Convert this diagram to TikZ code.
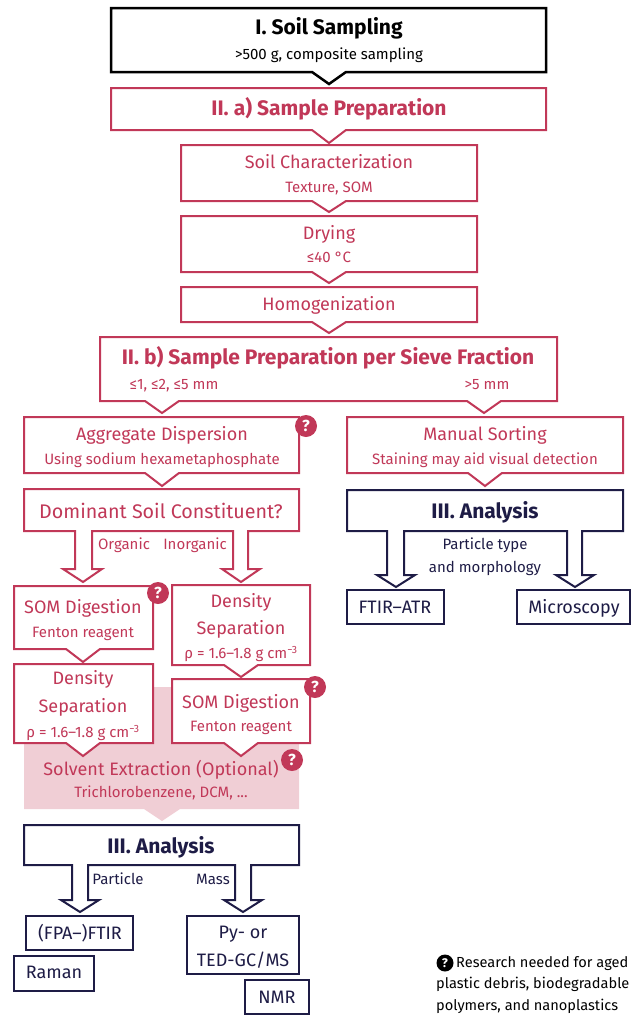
\documentclass[tikz,border=0pt]{standalone}
\usepackage{fontspec}
\setmainfont{Fira Sans}
\definecolor{crim}{HTML}{C13858}
\definecolor{navy}{HTML}{1E1C46}
\definecolor{pinkbg}{HTML}{F0CED5}
\tikzset{
  crimbox/.style={draw=crim, line width=2pt, fill=white},
  navybox/.style={draw=navy, line width=2pt, fill=white},
  blackbox/.style={draw=black, line width=2.5pt, fill=white},
  pinkarea/.style={fill=pinkbg, draw=none},
  ttl/.style={font=\fontsize{21}{25}\selectfont\bfseries, inner sep=0pt, text height=16.8pt, text depth=2.9pt},
  biglbl/.style={font=\fontsize{19.7}{24}\selectfont, inner sep=0pt, text height=15.8pt, text depth=2.8pt},
  mainl/.style={font=\fontsize{18}{22}\selectfont, inner sep=0pt, text height=14.4pt, text depth=2.5pt},
  subl/.style={font=\fontsize{15}{18}\selectfont, inner sep=0pt, text height=12pt, text depth=2.1pt},
  legl/.style={font=\fontsize{14.6}{18}\selectfont, inner sep=0pt, anchor=west, text height=11.7pt, text depth=2.1pt},
  badge/.style={circle, fill=crim, minimum size=22pt, inner sep=0pt, text=white, font=\fontsize{16}{16}\selectfont\bfseries},
  legbadge/.style={circle, fill=black, minimum size=17pt, inner sep=0pt, text=white, font=\fontsize{12.5}{12.5}\selectfont\bfseries},
}
% callout box: style, x1, y1, x2, y2, pointer x, tip y
\newcommand\cbox[7]{%
  \draw[#1] (#2,#3) -- (#4,#3) -- (#4,#5) -- (#6+17,#5) -- (#6,#7) -- (#6-17,#5) -- (#2,#5) -- cycle;}
\begin{document}
\begin{tikzpicture}[x=1pt,y=-1pt]
\useasboundingbox (0,0) rectangle (632,1017);

% I. Soil Sampling
\cbox{blackbox}{111}{8}{546}{72}{329}{84}
\node[ttl] (s1) at (329,28) {I. Soil Sampling};
\node[subl] (s1s) at (329,55) {>500 g, composite sampling};

% II a
\cbox{crimbox}{111}{88}{546}{130}{329}{143}
\node[ttl, text=crim] (s2a) at (329,109) {II. a) Sample Preparation};

\cbox{crimbox}{181}{145}{477}{201}{329}{212}
\node[mainl, text=crim] (sc) at (329,163) {Soil Characterization};
\node[subl, text=crim] (scs) at (329,188) {Texture, SOM};

\cbox{crimbox}{181}{216}{477}{272}{329}{283}
\node[mainl, text=crim] (dr) at (329,234) {Drying};
\node[subl, text=crim] (drs) at (329,258) {≤40 °C};

\cbox{crimbox}{181}{287}{477}{322}{329}{333}
\node[mainl, text=crim] (ho) at (329,305) {Homogenization};

% II b
\draw[crimbox] (100,337) -- (557,337) -- (557,401) -- (501,401) -- (484,413) -- (467,401)
  -- (179,401) -- (162,413) -- (145,401) -- (100,401) -- cycle;
\node[ttl, text=crim] (s2b) at (328,358) {II. b) Sample Preparation per Sieve Fraction};
\node[subl, text=crim] (sv1) at (174,385) {≤1, ≤2, ≤5 mm};
\node[subl, text=crim] (sv2) at (487,385) {>5 mm};

% left column
\cbox{crimbox}{24}{417}{299}{473}{162}{486}
\node[mainl, text=crim] (ag) at (162,435) {Aggregate Dispersion};
\node[subl, text=crim] (ags) at (162,460) {Using sodium hexametaphosphate};

\draw[crimbox] (24,489) -- (299,489) -- (299,531) -- (248,531) -- (248,569) -- (260,569) -- (241,582)
  -- (222,569) -- (233,569) -- (233,531) -- (92,531) -- (92,569) -- (102,569) -- (83,582)
  -- (63,569) -- (75,569) -- (75,531) -- (24,531) -- cycle;
\node[biglbl, text=crim] (dom) at (161,512) {Dominant Soil Constituent?};
\node[subl, text=crim] (org) at (124,545) {Organic};
\node[subl, text=crim] (inorg) at (195,545) {Inorganic};

% pink solvent area
\draw[pinkarea] (24,687) -- (299,687) -- (299,809) -- (180,809) -- (162,821) -- (144,809) -- (24,809) -- cycle;
\node[mainl, text=crim] (solv) at (161,770) {Solvent Extraction (Optional)};
\node[subl, text=crim] (solvs) at (161,793) {Trichlorobenzene, DCM, ...};

\cbox{crimbox}{14}{586}{153}{649}{83}{662}
\node[mainl, text=crim] (som1) at (83,608) {SOM Digestion};
\node[subl, text=crim] (som1s) at (83,633) {Fenton reagent};

\cbox{crimbox}{14}{664}{153}{743}{83}{756}
\node[mainl, text=crim] (den1a) at (83,679) {Density};
\node[mainl, text=crim] (den1b) at (83,707) {Separation};
\node[subl, text=crim] (den1s) at (83,733) {ρ = 1.6–1.8 g cm\textsuperscript{−3}};

\cbox{crimbox}{172}{585}{310}{665}{241}{677}
\node[mainl, text=crim] (den2a) at (241,602) {Density};
\node[mainl, text=crim] (den2b) at (241,629) {Separation};
\node[subl, text=crim] (den2s) at (241,654) {ρ = 1.6–1.8 g cm\textsuperscript{−3}};

\cbox{crimbox}{172}{679}{310}{743}{241}{756}
\node[mainl, text=crim] (som2) at (241,703) {SOM Digestion};
\node[subl, text=crim] (som2s) at (241,727) {Fenton reagent};

% left analysis
\draw[navybox] (24,825) -- (299,825) -- (299,865) -- (251,865) -- (251,900) -- (262,900) -- (243,912)
  -- (224,900) -- (235,900) -- (235,865) -- (88,865) -- (88,900) -- (99,900) -- (80,912)
  -- (61,900) -- (72,900) -- (72,865) -- (24,865) -- cycle;
\node[ttl, text=navy] (an1) at (161,847) {III. Analysis};
\node[subl, text=navy] (par1) at (118,880) {Particle};
\node[subl, text=navy] (mass) at (213,880) {Mass};

\draw[navybox] (26,916) rectangle (133,950);
\node[mainl, text=navy] (fpa) at (80,934) {(FPA–)FTIR};
\draw[navybox] (14,956) rectangle (94,991);
\node[mainl, text=navy] (ram) at (54,973) {Raman};
\draw[navybox] (187,916) rectangle (299,974);
\node[mainl, text=navy] (py1) at (243,933) {Py- or};
\node[mainl, text=navy] (py2) at (243,961) {TED-GC/MS};
\draw[navybox] (245,980) rectangle (309,1014);
\node[mainl, text=navy] (nmr) at (277,998) {NMR};

% right column
\cbox{crimbox}{347}{417}{623}{473}{485}{486}
\node[mainl, text=crim] (ms) at (485,435) {Manual Sorting};
\node[subl, text=crim] (mss) at (485,460) {Staining may aid visual detection};

\draw[navybox] (347,490) -- (623,490) -- (623,531) -- (582,531) -- (582,575) -- (594,575) -- (575,587)
  -- (556,575) -- (567,575) -- (567,531) -- (404,531) -- (404,575) -- (415,575) -- (396,587)
  -- (377,575) -- (387,575) -- (387,531) -- (347,531) -- cycle;
\node[ttl, text=navy] (an2) at (485,512) {III. Analysis};
\node[subl, text=navy] (pt1) at (485,545) {Particle type};
\node[subl, text=navy] (pt2) at (485,568) {and morphology};

\draw[navybox] (347,590) rectangle (444,624);
\node[mainl, text=navy] (ftir) at (395,608) {FTIR–ATR};
\draw[navybox] (517,590) rectangle (630,624);
\node[mainl, text=navy] (mic) at (574,608) {Microscopy};

% badges
\node[badge] (b1) at (306,426) {?};
\node[badge] (b2) at (158,593) {?};
\node[badge] (b3) at (315,687) {?};
\node[badge] (b4) at (292,760) {?};

% legend
\node[legbadge] (lb) at (445,963) {?};
\node[legl] (l1) at (456,963) {Research needed for aged};
\node[legl] (l2) at (436,984) {plastic debris, biodegradable};
\node[legl] (l3) at (436,1006) {polymers, and nanoplastics};
\end{tikzpicture}
\end{document}
